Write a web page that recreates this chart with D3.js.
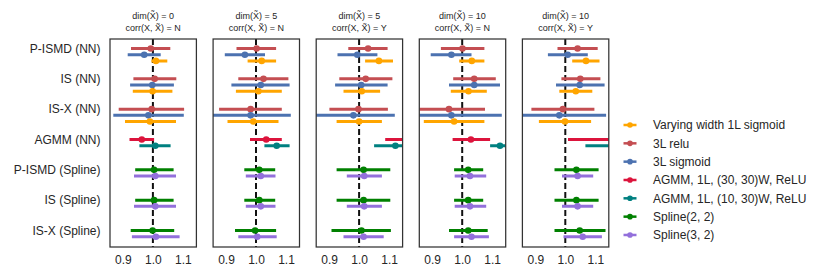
<!DOCTYPE html>
<html lang="en">
<head>
    <meta charset="UTF-8">
    <title>estimates</title>
    <script src="https://cdn.jsdelivr.net/npm/d3@7"></script>
    <style>
        body{ margin:0; background:#fff; }
        text{ font-family:"Liberation Sans", Arial, sans-serif; fill:#262626; }
    </style>
</head>
<body>
</body>
<script type="text/javascript">

    // method groups on the y axis
    let groups = ["P-ISMD (NN)", "IS (NN)", "IS-X (NN)", "AGMM (NN)",
                  "P-ISMD (Spline)", "IS (Spline)", "IS-X (Spline)"];

    // legend series
    let seriesNames = ["Varying width 1L sigmoid", "3L relu", "3L sigmoid",
                       "AGMM, 1L, (30, 30)W, ReLU", "AGMM, 1L, (10, 30)W, ReLU",
                       "Spline(2, 2)", "Spline(3, 2)"];
    let seriesColors = ["#ffa500", "#c44e52", "#4c72b0", "#dc143c", "#008080", "#008000", "#9370db"];

    // each row: [group index, series index, slot inside group]
    let rows = [
        [0,1,0],[0,2,1],[0,0,2],
        [1,1,0],[1,2,1],[1,0,2],
        [2,1,0],[2,2,1],[2,0,2],
        [3,3,0],[3,4,1],
        [4,5,0],[4,6,1],
        [5,5,0],[5,6,1],
        [6,5,0],[6,6,1]
    ];

    // panel titles
    let dims = [0, 5, 5, 10, 10];
    let corrs = ["N", "N", "Y", "N", "Y"];

    // [low, estimate, high] per row, one array per panel
    let est0 = [[0.927,0.993,1.058],[0.916,0.971,1.026],[0.995,1.010,1.048],
                [0.935,1.006,1.078],[0.924,0.998,1.070],[0.933,0.999,1.065],
                [0.886,0.996,1.104],[0.868,0.985,1.103],[0.907,0.990,1.077],
                [0.922,0.963,1.004],[0.955,1.008,1.059],
                [0.941,1.004,1.069],[0.937,1.008,1.077],
                [0.941,1.004,1.069],[0.937,1.008,1.077],
                [0.926,0.999,1.071],[0.930,1.010,1.089]];
    let est1 = [[0.935,1.002,1.067],[0.896,0.963,1.030],[0.972,1.019,1.067],
                [0.941,1.025,1.108],[0.918,1.016,1.112],[0.933,1.008,1.086],
                [0.877,0.982,1.086],[0.840,0.982,1.116],[0.905,0.991,1.075],
                [0.980,1.034,1.086],[1.028,1.069,1.112],
                [0.961,1.011,1.064],[0.966,1.016,1.065],
                [0.961,1.011,1.064],[0.966,1.016,1.065],
                [0.930,0.997,1.067],[0.941,1.004,1.069]];
    let est2 = [[0.964,1.030,1.095],[0.928,0.994,1.061],[1.020,1.066,1.113],
                [0.934,1.022,1.111],[0.920,1.007,1.095],[0.948,1.009,1.070],
                [0.901,0.998,1.096],[0.840,0.981,1.119],[0.925,1.000,1.076],
                [1.087,1.190,1.300],[1.050,1.121,1.200],
                [0.925,1.015,1.104],[0.959,1.017,1.076],
                [0.925,1.015,1.104],[0.959,1.017,1.076],
                [0.908,1.008,1.106],[0.948,1.015,1.082]];
    let est3 = [[0.929,1.001,1.074],[0.895,0.964,1.031],[0.990,1.032,1.074],
                [0.970,1.040,1.112],[0.956,1.040,1.126],[0.962,1.021,1.082],
                [0.840,0.956,1.076],[0.840,0.964,1.132],[0.872,0.973,1.074],
                [0.968,1.029,1.093],[1.093,1.126,1.200],
                [0.973,1.020,1.070],[0.975,1.026,1.080],
                [0.973,1.020,1.070],[0.975,1.026,1.080],
                [0.956,1.020,1.085],[0.973,1.031,1.089]];
    let est4 = [[0.974,1.041,1.108],[0.942,1.008,1.075],[1.023,1.069,1.114],
                [0.987,1.050,1.117],[0.969,1.048,1.131],[0.980,1.035,1.090],
                [0.887,0.992,1.097],[0.840,0.980,1.136],[0.912,0.999,1.086],
                [1.009,1.200,1.400],[1.067,1.250,1.450],
                [0.964,1.037,1.111],[0.989,1.041,1.093],
                [0.964,1.037,1.111],[0.989,1.041,1.093],
                [0.964,1.048,1.134],[0.994,1.058,1.122]];
    let panels = [est0, est1, est2, est3, est4];

    let xTicks = [0.9, 1.0, 1.1];

    let width = 831, height = 277;
    let panelW = 86.4, panelStep = 103.1, left0 = 110;
    let plotTop = 39, plotBottom = 247;
    let slotGap = 6.2;

    let svg = d3.select("body").append("svg")
        .attr("width", width)
        .attr("height", height);

    let y = d3.scaleLinear()
        .domain([0, groups.length - 1])
        .range([48.5, 230.5]);

    // y labels
    svg.append("g")
        .selectAll("text")
        .data(groups)
        .join("text")
        .attr("x", 100.5)
        .attr("y", (d, i) => y(i))
        .attr("dy", "0.35em")
        .attr("text-anchor", "end")
        .attr("font-size", 12)
        .text(d => d);

    panels.forEach((est, p) => {
        let x0 = left0 + p * panelStep;
        let x = d3.scaleLinear()
            .domain([0.857, 1.145])
            .range([x0, x0 + panelW]);

        let g = svg.append("g");

        g.append("clipPath")
            .attr("id", "clip" + p)
            .append("rect")
            .attr("x", x0).attr("y", plotTop)
            .attr("width", panelW).attr("height", plotBottom - plotTop);

        // reference line at 1.0
        g.append("line")
            .attr("x1", x(1)).attr("x2", x(1))
            .attr("y1", plotTop).attr("y2", plotBottom)
            .attr("stroke", "#111")
            .attr("stroke-width", 2)
            .attr("stroke-dasharray", "6,3");

        let marks = g.append("g").attr("clip-path", `url(#clip${p})`);
        let rowY = r => y(r[0]) + r[2] * slotGap;

        marks.selectAll("line.err")
            .data(rows)
            .join("line")
            .attr("class", "err")
            .attr("x1", (r, i) => x(est[i][0]))
            .attr("x2", (r, i) => x(est[i][2]))
            .attr("y1", rowY).attr("y2", rowY)
            .attr("stroke", r => seriesColors[r[1]])
            .attr("stroke-width", 3);

        marks.selectAll("circle")
            .data(rows)
            .join("circle")
            .attr("cx", (r, i) => x(est[i][1]))
            .attr("cy", rowY)
            .attr("r", 3.3)
            .attr("fill", r => seriesColors[r[1]]);

        // frame
        g.append("rect")
            .attr("x", x0).attr("y", plotTop)
            .attr("width", panelW).attr("height", plotBottom - plotTop)
            .attr("fill", "none")
            .attr("stroke", "#333")
            .attr("stroke-width", 1.25);

        // x axis tick labels
        let xAxis = d3.axisBottom(x)
            .tickValues(xTicks)
            .tickFormat(d3.format(".1f"))
            .tickSize(0)
            .tickPadding(8);
        let ax = g.append("g")
            .attr("transform", `translate(0,${plotBottom})`)
            .call(xAxis);
        ax.select(".domain").remove();
        ax.selectAll("text")
            .attr("font-size", 12)
            .attr("font-family", '"Liberation Sans", Arial, sans-serif')
            .attr("fill", "#262626");

        // title
        let cx = x0 + panelW / 2;
        g.append("text")
            .attr("x", cx).attr("y", 15.5)
            .attr("dy", "0.35em")
            .attr("text-anchor", "middle")
            .attr("font-size", 9)
            .text(`dim(X\u0303) = ${dims[p]}`);
        g.append("text")
            .attr("x", cx).attr("y", 28.3)
            .attr("dy", "0.35em")
            .attr("text-anchor", "middle")
            .attr("font-size", 9)
            .text(`corr(X, X\u0303) = ${corrs[p]}`);
    });

    // legend
    let legend = svg.append("g")
        .selectAll("g")
        .data(seriesNames)
        .join("g")
        .attr("transform", (d, i) => `translate(630,${125 + i * 18.33})`);
    legend.append("line")
        .attr("x1", -6.5).attr("x2", 6.5)
        .attr("stroke", (d, i) => seriesColors[i])
        .attr("stroke-width", 2.5);
    legend.append("circle")
        .attr("r", 2.8)
        .attr("fill", (d, i) => seriesColors[i]);
    legend.append("text")
        .attr("x", 23)
        .attr("dy", "0.35em")
        .attr("font-size", 12)
        .text(d => d);
</script>
</html>
